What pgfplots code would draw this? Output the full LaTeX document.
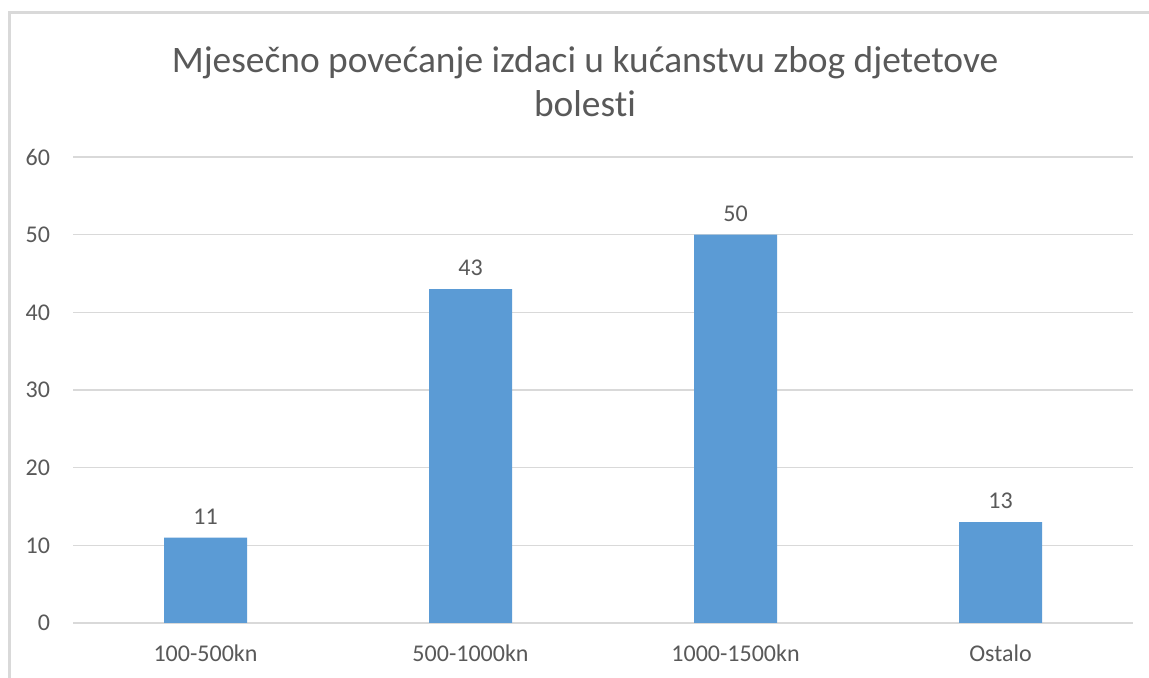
\documentclass[border=0pt]{standalone}
\usepackage{pgfplots}
\pgfplotsset{compat=1.18}
\usepackage{fontspec}
\setmainfont{Carlito}[Ligatures=NoCommon]
\definecolor{bar}{HTML}{5B9BD5}
\definecolor{txt}{HTML}{595959}
\definecolor{grd}{HTML}{D9D9D9}
\begin{document}
\begin{tikzpicture}[x=0.5pt,y=0.5pt]
\useasboundingbox (0,0) rectangle (1149,678);
\fill[white] (0,0) rectangle (1149,678);
\draw[grd,line width=1.5pt] (9,0) -- (9,665) -- (1149,665);
\node[txt,font=\fontsize{18.7}{22}\selectfont,align=center,anchor=base] at (585,561) {Mjesečno povećanje izdaci u kućanstvu zbog djetetove\\bolesti};
\begin{axis}[
  at={(73pt*0.5,55pt*0.5)}, anchor=south west,
  scale only axis, width=530pt, height=233pt,
  xmin=-0.5, xmax=3.5, ymin=0, ymax=60,
  ytick={0,10,...,60},
  xtick={0,1,2,3},
  xticklabels={100-500kn,500-1000kn,1000-1500kn,Ostalo},
  ymajorgrids, grid style={grd,line width=0.75pt},
  axis line style={draw=none},
  major tick style={draw=none},
  tick label style={txt,font=\fontsize{12}{14}\selectfont},
  /pgf/number format/assume math mode=true,
  yticklabel style={xshift=-8pt},
  xticklabel style={yshift=-3pt},
  ybar, bar width=41.5pt,
  nodes near coords,
  every node near coord/.append style={txt,font=\fontsize{12}{14}\selectfont,yshift=3pt},
  clip=false,
]
\addplot[fill=bar,draw=none] coordinates {(0,11) (1,43) (2,50) (3,13)};
\end{axis}
\end{tikzpicture}
\end{document}
